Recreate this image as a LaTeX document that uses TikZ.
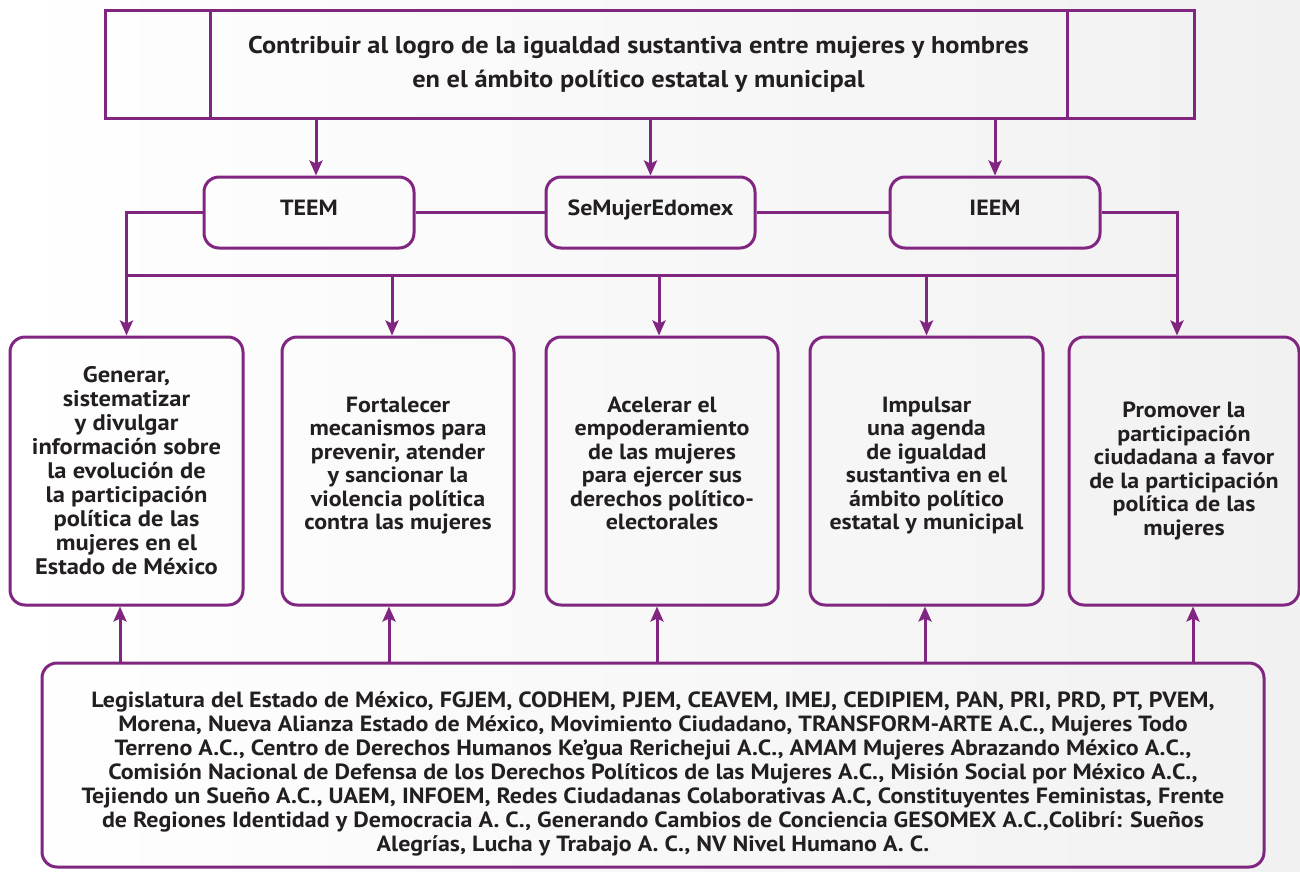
\documentclass[tikz,border=0pt]{standalone}
\usepackage{fontspec}
\setmainfont{PT Sans}[FakeStretch=1.09]
\usetikzlibrary{arrows.meta}
\definecolor{pur}{RGB}{128,38,128}
\definecolor{ink}{RGB}{35,31,32}
\definecolor{bgR}{RGB}{241,241,241}
\begin{document}
\begin{tikzpicture}[x=1pt,y=-1pt,
  ln/.style={draw=pur, line width=3pt},
  arr/.style={ln, -{Stealth[length=15pt,width=13pt,inset=3pt]}},
  sq/.style={draw=pur, line width=3pt, inner sep=0pt, minimum height=108pt},
  goalbox/.style={sq, align=center, text=ink, font=\fontsize{24.2}{34}\selectfont\bfseries},
  mid/.style={draw=pur, line width=3pt, rounded corners=15pt, minimum width=210pt, minimum height=71pt, inner sep=0pt, text=ink, font=\fontsize{22}{27}\selectfont\bfseries, text height=10pt, text depth=5pt},
  obj/.style={draw=pur, line width=3pt, rounded corners=15pt, minimum width=233pt, minimum height=268pt, inner sep=0pt, align=center, text=ink, font=\fontsize{22}{23.5}\selectfont\bfseries},
  orgbox/.style={draw=pur, line width=3pt, rounded corners=15pt, minimum width=1222pt, minimum height=204pt, inner sep=0pt, align=center, text=ink, font=\fontsize{22}{24}\selectfont\bfseries}
]
\useasboundingbox (0,0) rectangle (1300,871);
\shade[left color=white, right color=bgR] (0,0) rectangle (1300,871);

% top row
\node[sq, minimum width=105pt] (lbox) at (157.5,64) {};
\node[sq, minimum width=127pt] (rbox) at (1130.5,64) {};
\node[goalbox, minimum width=857pt] (goal) at (638.5,64) {Contribuir al logro de la igualdad sustantiva entre mujeres y hombres\\en el ámbito político estatal y municipal};

% middle row
\node[mid] (teem) at (309,212.5) {TEEM};
\node[mid, minimum width=209pt] (semujer) at (650.5,212.5) {SeMujerEdomex};
\node[mid] (ieem) at (995,212.5) {IEEM};

% objectives
\node[obj, font=\fontsize{22.5}{24}\selectfont\bfseries] (b1) at (126.5,471) {Generar,\\sistematizar\\y divulgar\\información sobre\\la evolución de\\la participación\\política de las\\mujeres en el\\Estado de México};
\node[obj, minimum width=232pt] (b2) at (398,471) {Fortalecer\\mecanismos para\\prevenir, atender\\y sancionar la\\violencia política\\contra las mujeres\\[-8pt]\mbox{}};
\node[obj, minimum width=232pt] (b3) at (662,471) {Acelerar el\\empoderamiento\\de las mujeres\\para ejercer sus\\derechos político-\\electorales\\[-8pt]\mbox{}};
\node[obj] (b4) at (926.5,471) {Impulsar\\una agenda\\de igualdad\\sustantiva en el\\ámbito político\\estatal y municipal\\[-8pt]\mbox{}};
\node[obj, minimum width=230pt] (b5) at (1184,471) {Promover la\\participación\\ciudadana a favor\\de la participación\\política de las\\mujeres};

% organisations
\node[orgbox] (orgs) at (653,765) {\mbox{}\\[9pt]Legislatura del Estado de México, FGJEM, CODHEM, PJEM, CEAVEM, IMEJ, CEDIPIEM, PAN, PRI, PRD, PT, PVEM,\\Morena, Nueva Alianza Estado de México, Movimiento Ciudadano, TRANSFORM-ARTE A.C., Mujeres Todo\\Terreno A.C., Centro de Derechos Humanos Ke’gua Rerichejui A.C., AMAM Mujeres Abrazando México A.C.,\\Comisión Nacional de Defensa de los Derechos Políticos de las Mujeres A.C., Misión Social por México A.C.,\\Tejiendo un Sueño A.C., UAEM, INFOEM, Redes Ciudadanas Colaborativas A.C, Constituyentes Feministas, Frente\\de Regiones Identidad y Democracia A. C., Generando Cambios de Conciencia GESOMEX A.C.,Colibrí: Sueños\\Alegrías, Lucha y Trabajo A. C., NV Nivel Humano A. C.};

% goal -> institutions
\draw[arr] ([xshift=7pt]teem.north |- goal.south) -- ([xshift=7pt]teem.north);
\draw[arr] (semujer.north |- goal.south) -- (semujer.north);
\draw[arr] (ieem.north |- goal.south) -- (ieem.north);

% institutions links
\draw[ln] (teem.east) -- (semujer.west);
\draw[ln] (semujer.east) -- (ieem.west);
\coordinate (bus) at (0,275);
\draw[arr] (teem.west) -| (b1.north);
\draw[arr] (ieem.east) -| ([xshift=-7pt]b5.north);
\draw[ln] (b1.north |- bus) -- ([xshift=-7pt]b5.north |- bus);
\draw[arr] ([xshift=-6pt]b2.north |- bus) -- ([xshift=-6pt]b2.north);
\draw[arr] ([xshift=-3pt]b3.north |- bus) -- ([xshift=-3pt]b3.north);
\draw[arr] (b4.north |- bus) -- (b4.north);

% organisations -> objectives
\draw[arr] ([xshift=-6.5pt]b1.south |- orgs.north) -- ([xshift=-6.5pt]b1.south);
\draw[arr] ([xshift=-9pt]b2.south |- orgs.north) -- ([xshift=-9pt]b2.south);
\draw[arr] ([xshift=-5pt]b3.south |- orgs.north) -- ([xshift=-5pt]b3.south);
\draw[arr] ([xshift=-1.5pt]b4.south |- orgs.north) -- ([xshift=-1.5pt]b4.south);
\draw[arr] ([xshift=9pt]b5.south |- orgs.north) -- ([xshift=9pt]b5.south);
\end{tikzpicture}
\end{document}
